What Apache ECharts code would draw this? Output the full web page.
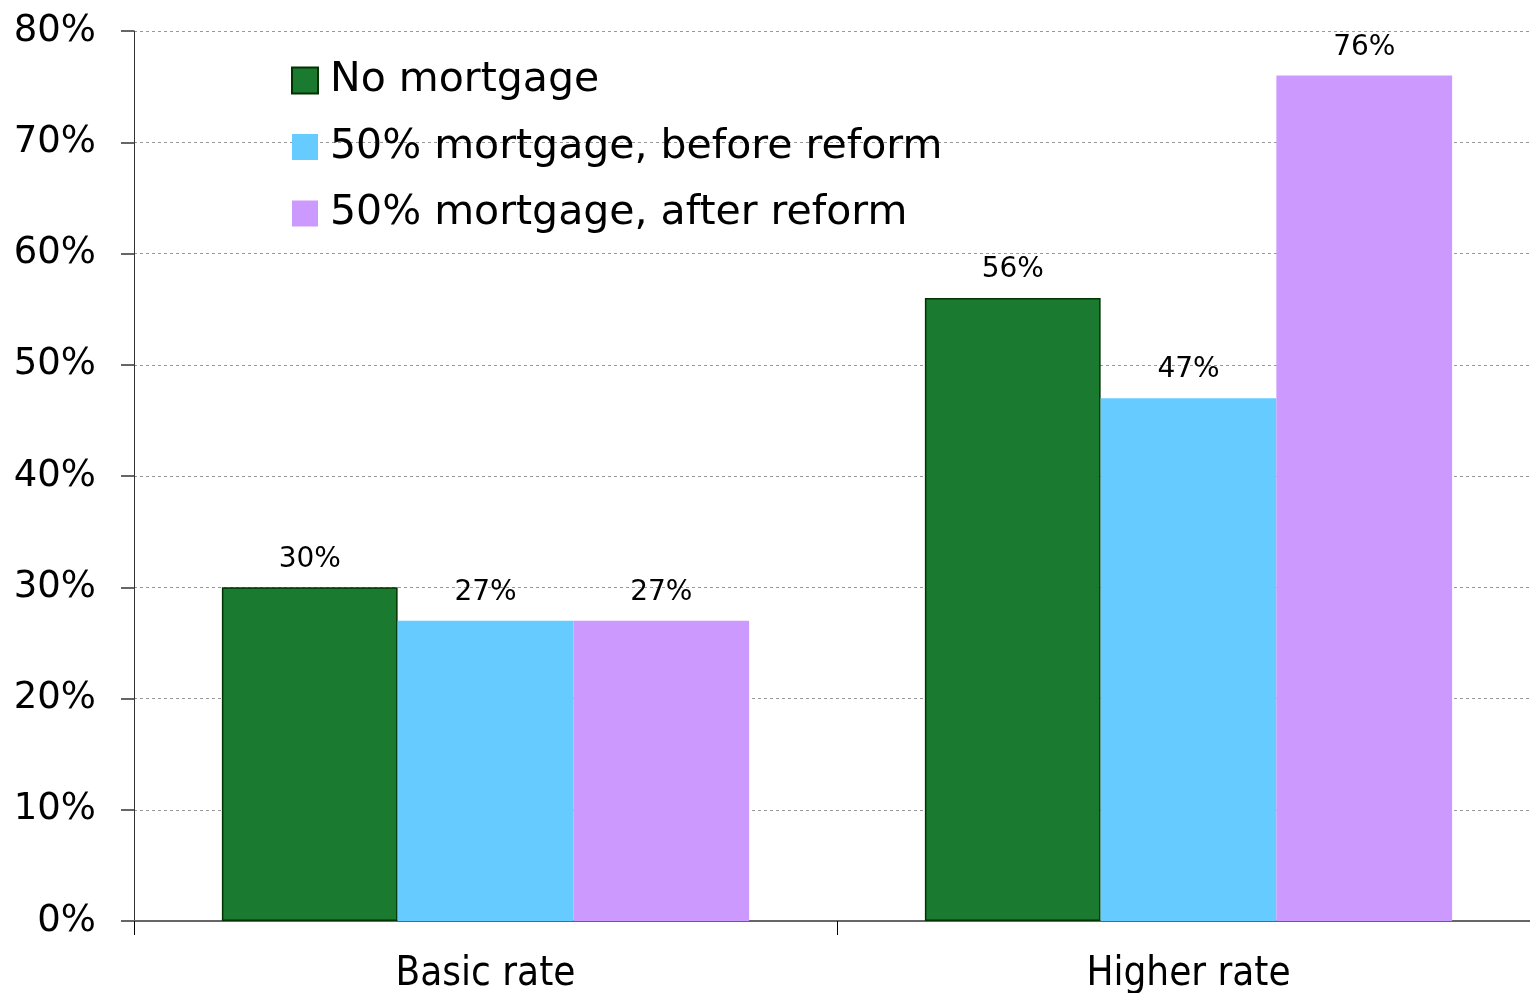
<!DOCTYPE html>
<html>
<head>
<meta charset="utf-8">
<script src="https://cdn.jsdelivr.net/npm/echarts@6/dist/echarts.min.js"></script>
<style>
  html, body { margin: 0; padding: 0; background: #fff; }
  #chart { width: 1530px; height: 993px; }
</style>
</head>
<body>
<div id="chart"></div>
<script>
// Income tax bands on the horizontal axis
const categories = ['Basic rate', 'Higher rate'];

// Effective rates (%) per scenario
const noMortgage = [30, 56];
const mortgageBefore = [27, 47];
const mortgageAfter = [27, 76];

const seriesNames = ['No mortgage', '50% mortgage, before reform', '50% mortgage, after reform'];
const yTicks = [0, 10, 20, 30, 40, 50, 60, 70, 80];

const FONT = '"DejaVu Sans", "Open Sans", sans-serif';

const labelStyle = {
  show: true,
  position: 'top',
  distance: 14,
  formatter: p => p.value + '%',
  fontFamily: FONT,
  fontSize: 28,
  color: '#000'
};

const chart = echarts.init(document.getElementById('chart'), null, { renderer: 'canvas' });

chart.setOption({
  animation: false,
  backgroundColor: '#fff',
  // plot runs a little past the right edge of the canvas
  grid: { left: 134, width: 1406, top: 31, bottom: 72, containLabel: false, outerBoundsMode: 'none' },
  legend: {
    orient: 'vertical',
    left: 286,
    top: 55,
    itemWidth: 26,
    itemHeight: 26,
    itemGap: 25.5,
    icon: 'rect',
    textStyle: { fontFamily: FONT, fontSize: 41, color: '#000', padding: [0, 0, 0, 7] },
    data: seriesNames
  },
  xAxis: {
    type: 'category',
    data: categories,
    axisLine: { show: true, lineStyle: { color: '#666', width: 2 } },
    axisTick: { show: true, length: 14, lineStyle: { color: '#000', width: 1 } },
    axisLabel: {
      fontFamily: '"DejaVu Sans Condensed", ' + FONT,
      fontSize: 40,
      color: '#000',
      margin: 34
    }
  },
  yAxis: {
    type: 'value',
    min: yTicks[0],
    max: yTicks[yTicks.length - 1],
    interval: 10,
    axisLine: { show: true, lineStyle: { color: '#333', width: 1 } },
    axisTick: { show: true, length: 13, lineStyle: { color: '#666', width: 2 } },
    axisLabel: {
      formatter: v => v + '%',
      fontFamily: FONT,
      fontSize: 37,
      color: '#000',
      margin: 38
    },
    splitLine: { show: true, lineStyle: { color: '#999', type: [3, 3], width: 1 } }
  },
  series: [
    {
      name: seriesNames[0],
      type: 'bar',
      data: noMortgage,
      barGap: '0%',
      barCategoryGap: '25%',
      itemStyle: { color: '#1a7a30', borderColor: '#003300', borderWidth: 1.5 },
      label: labelStyle
    },
    {
      name: seriesNames[1],
      type: 'bar',
      data: mortgageBefore,
      barGap: '0%',
      barCategoryGap: '25%',
      itemStyle: { color: '#66ccff' },
      label: labelStyle
    },
    {
      name: seriesNames[2],
      type: 'bar',
      data: mortgageAfter,
      barGap: '0%',
      barCategoryGap: '25%',
      itemStyle: { color: '#cc99ff' },
      label: labelStyle
    }
  ]
});
</script>
</body>
</html>
